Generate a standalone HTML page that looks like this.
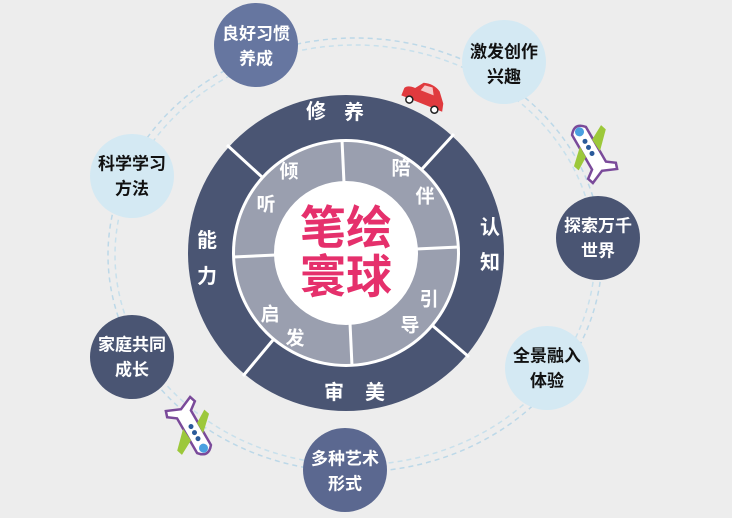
<!DOCTYPE html>
<html><head><meta charset="utf-8"><style>
html,body{margin:0;padding:0;background:#ededed;}
svg{display:block}
text{font-family:"Liberation Sans","Noto Sans CJK SC","WenQuanYi Zen Hei",sans-serif;font-weight:bold;text-anchor:middle;dominant-baseline:central}
</style></head><body>
<svg width="732" height="518" viewBox="0 0 732 518" xmlns="http://www.w3.org/2000/svg">
<rect width="732" height="518" fill="#ededed"/>
<ellipse cx="355" cy="255" rx="247" ry="217" fill="none" stroke="#bcd8e8" stroke-width="1.5" stroke-dasharray="5 4"/>
<ellipse cx="355" cy="255" rx="240" ry="210" fill="none" stroke="#c8e0ec" stroke-width="1.5" stroke-dasharray="5 4"/>

<circle cx="346" cy="253" r="158" fill="#4a5573"/>
<circle cx="346" cy="253" r="114" fill="#ffffff"/>
<circle cx="346" cy="253" r="111" fill="#9a9faf"/>
<circle cx="346" cy="253" r="72" fill="#ffffff"/>
<g stroke="#ffffff" stroke-width="3">
<line x1="262" y1="177" x2="227" y2="145"/>
<line x1="422" y1="169" x2="454" y2="134"/>
<line x1="433" y1="326" x2="469" y2="357"/>
<line x1="273" y1="340" x2="243" y2="376"/>
<line x1="344" y1="183" x2="342" y2="140"/>
<line x1="416" y1="249" x2="459" y2="247"/>
<line x1="350" y1="323" x2="352" y2="366"/>
<line x1="276" y1="255" x2="233" y2="257"/>
</g>
<g fill="#ffffff" font-size="20">
<text x="316" y="112">修</text><text x="354" y="113">养</text>
<text x="490" y="228">认</text><text x="490" y="263">知</text>
<text x="334" y="393">审</text><text x="375" y="393">美</text>
<text x="207" y="241">能</text><text x="207" y="277">力</text>
</g>
<g fill="#ffffff" font-size="19">
<text x="289" y="172">倾</text><text x="266" y="205">听</text>
<text x="401" y="169">陪</text><text x="425" y="197">伴</text>
<text x="429" y="300">引</text><text x="410" y="326">导</text>
<text x="270" y="315">启</text><text x="295" y="339">发</text>
</g>
<g fill="#e5306c" font-size="46">
<text x="346" y="228">笔绘</text><text x="346" y="277">寰球</text>
</g>

<circle cx="256" cy="45" r="42" fill="#6676a0"/>
<circle cx="504" cy="62" r="42" fill="#d4e9f3"/>
<circle cx="132" cy="176" r="42" fill="#d4e9f3"/>
<circle cx="598" cy="238" r="42" fill="#4a5573"/>
<circle cx="132" cy="357" r="42" fill="#4a5573"/>
<circle cx="547" cy="368" r="42" fill="#d4e9f3"/>
<circle cx="345" cy="470" r="42" fill="#5b6890"/>
<g font-size="17">
<text x="256" y="34" fill="#fff">良好习惯</text><text x="256" y="59" fill="#fff">养成</text>
<text x="504" y="52" fill="#111">激发创作</text><text x="504" y="77" fill="#111">兴趣</text>
<text x="132" y="164" fill="#111">科学学习</text><text x="132" y="189" fill="#111">方法</text>
<text x="598" y="226" fill="#fff">探索万千</text><text x="598" y="251" fill="#fff">世界</text>
<text x="132" y="345" fill="#fff">家庭共同</text><text x="132" y="370" fill="#fff">成长</text>
<text x="547" y="356" fill="#111">全景融入</text><text x="547" y="381" fill="#111">体验</text>
<text x="345" y="459" fill="#fff">多种艺术</text><text x="345" y="484" fill="#fff">形式</text>
</g>

<g transform="translate(424,98) rotate(22)">
<path d="M-22,6 L-22,-2 Q-20,-6 -12,-6 L-6,-14 Q4,-17 12,-12 L20,-2 L22,6 Z" fill="#e03a3e"/>
<path d="M-4,-12 L4,-13 L8,-6 L-6,-6 Z" fill="#f6c6c6"/>
<circle cx="-13" cy="7" r="3.5" fill="#fff" stroke="#222" stroke-width="1.5"/>
<circle cx="14" cy="7" r="3.5" fill="#fff" stroke="#222" stroke-width="1.5"/>
</g>

<g transform="translate(590,150) rotate(-30)">
<path d="M-8,-22 Q0,-32 8,-22 L8,18 L16,24 L14,30 L0,24 L-14,30 L-16,24 L-8,18 Z" fill="#fff" stroke="#7a4a9a" stroke-width="2.5"/>
<path d="M7,-8 L22,-16 L24,-10 L8,6 Z" fill="#9cc83a"/>
<path d="M-7,-8 L-22,6 L-20,12 L-7,4 Z" fill="#9cc83a"/>
<circle cx="0" cy="-21" r="4.5" fill="#4aa0e0"/>
<circle cx="0" cy="-10" r="2.5" fill="#2a5a9a"/><circle cx="0" cy="-3" r="2.5" fill="#2a5a9a"/><circle cx="0" cy="4" r="2.5" fill="#2a5a9a"/>
</g>
<g transform="translate(193,430) rotate(150)">
<path d="M-8,-22 Q0,-32 8,-22 L8,18 L16,24 L14,30 L0,24 L-14,30 L-16,24 L-8,18 Z" fill="#fff" stroke="#7a4a9a" stroke-width="2.5"/>
<path d="M7,-8 L22,-16 L24,-10 L8,6 Z" fill="#9cc83a"/>
<path d="M-7,-8 L-22,6 L-20,12 L-7,4 Z" fill="#9cc83a"/>
<circle cx="0" cy="-21" r="4.5" fill="#4aa0e0"/>
<circle cx="0" cy="-10" r="2.5" fill="#2a5a9a"/><circle cx="0" cy="-3" r="2.5" fill="#2a5a9a"/><circle cx="0" cy="4" r="2.5" fill="#2a5a9a"/>
</g>
</svg>
</body></html>
